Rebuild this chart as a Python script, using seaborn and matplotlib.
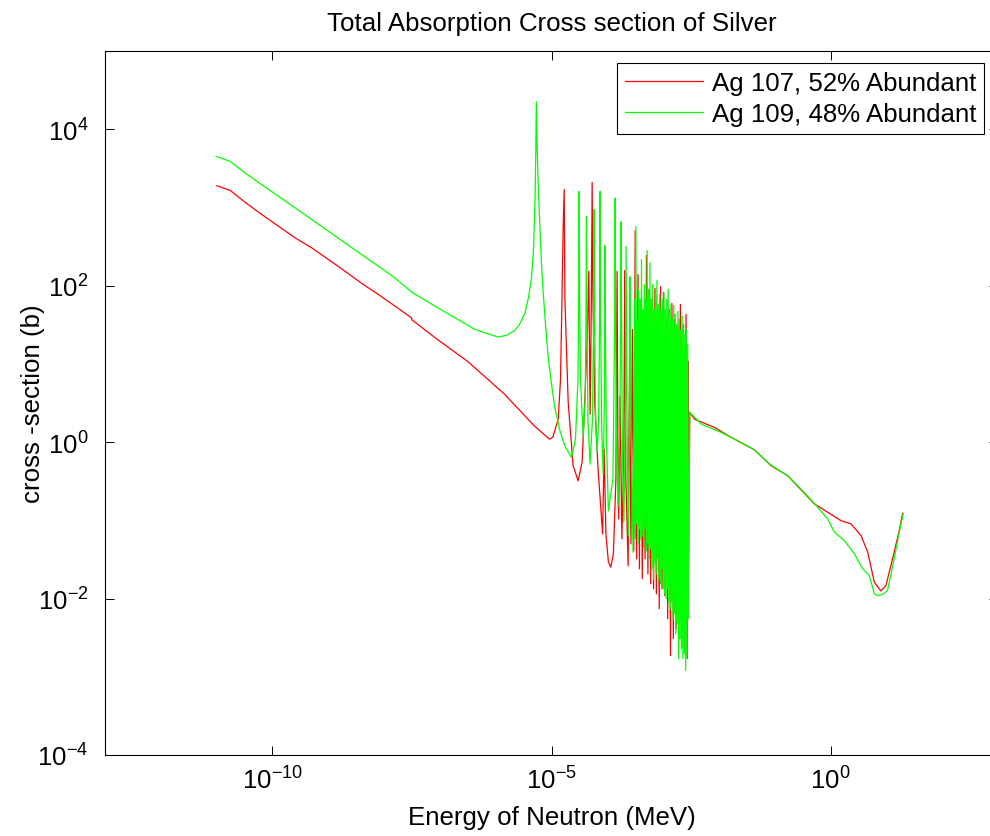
import numpy as np
import pandas as pd
import matplotlib
matplotlib.use("Agg")
import matplotlib.pyplot as plt
import seaborn as sns
from matplotlib.ticker import NullLocator

# ---------------------------------------------------------------------------
# Ag-107 absorption cross section (energy in eV, cross section in barns)
# ---------------------------------------------------------------------------
ag107_thermal_ev = [1.0e-5, 1.76e-5, 3.26e-5, 6.48e-5, 1.29e-4, 2.56e-4, 5.09e-4,
                    1.01e-3, 2.0e-3, 3.99e-3, 7.94e-3, 1.57e-2, 3.10e-2, 3.16e-2,
                    8.17e-2, 0.323, 1.44, 4.94, 9.2, 10.6]
ag107_thermal_b = [1900, 1650, 1160, 810, 574, 408, 304,
                   216, 153, 107, 77, 54.8, 38.8, 36.6,
                   21.7, 10.6, 4.1, 1.61, 1.09, 1.16]

ag107_resolved_ev = [13.2, 14.5, 15.1, 16.2, 16.9, 17.4, 19.9, 24.4, 30.0, 35.4,
                     39.4, 43.7, 46.5, 49.2, 51.8, 53.5, 55.3, 59.5, 68.3, 82.4,
                     87.7, 94.4, 104.6, 115.1, 128.5, 142.5, 149.7, 154.7, 160.0, 169.4,
                     182.5, 198.2, 204.8, 215.1,
                     236, 250, 265, 281, 298, 316, 335, 355, 376, 399,
                     423, 448, 475, 503, 534, 566, 600, 636, 674, 714,
                     757, 803, 851, 902, 956, 1013, 1074, 1139, 1207, 1279,
                     1356, 1437, 1524, 1615, 1712, 1815, 1923, 2039, 2161, 2291,
                     2428, 2574, 2728, 2790, 2860]
ag107_resolved_b = [1.97, 6.36, 30.4, 574, 1690, 66.7, 3.24, 0.5, 0.32, 0.556,
                    3.24, 20.6, 153, 2.28, 66.7, 2090, 66.7, 3.24, 0.453, 0.067,
                    0.814, 0.067, 0.0295, 0.0252, 0.0373, 0.337, 153, 0.814, 0.104, 3.9,
                    0.0579, 0.814, 156, 0.337,
                    0.0262, 11.5, 0.050, 27.6, 0.0407, 506, 0.0322, 139, 0.0240, 27.6,
                    0.0179, 37.1, 0.0322, 243, 0.0207, 49.7, 0.0155, 66.7, 0.0133, 92.1,
                    0.0115, 27.6, 0.00741, 97.7, 0.0133, 81.9, 0.0109, 37.1, 0.00552, 49.7,
                    0.00186, 59.3, 0.00307, 37.1, 0.00412, 27.6, 0.00477, 57.6, 0.00307, 32.0,
                    0.00229, 42.9, 0.00171, 10.8, 0.0303]

ag107_fast_ev = [3.0e3, 3.66e3, 8.35e3, 1.66e4, 4.34e4, 8.63e4, 1.71e5, 5.13e5,
                 8.91e5, 1.54e6, 2.33e6, 3.52e6, 4.63e6, 6.08e6, 8.0e6, 9.84e6,
                 1.38e7, 1.70e7, 1.96e7]
ag107_fast_b = [2.41, 1.96, 1.54, 1.15, 0.798, 0.499, 0.372, 0.162,
                0.127, 0.099, 0.090, 0.0638, 0.0392, 0.0162, 0.0125, 0.0147,
                0.0392, 0.0739, 0.124]

# ---------------------------------------------------------------------------
# Ag-109 absorption cross section (energy in eV, cross section in barns)
# ---------------------------------------------------------------------------
ag109_thermal_ev = [1.0e-5, 1.76e-5, 3.26e-5, 6.48e-5, 1.29e-4, 2.56e-4, 5.09e-4,
                    1.01e-3, 2.0e-3, 3.99e-3, 7.94e-3, 1.57e-2, 3.13e-2, 8.17e-2,
                    0.186, 0.425, 1.11, 1.567, 2.206, 2.676, 3.33, 3.878, 4.386,
                    4.764, 5.068, 5.238, 5.35, 5.549, 5.783, 6.174, 6.624, 7.103,
                    7.81, 8.73, 10.0, 11.46, 13.9, 17.3, 22.8]
ag109_thermal_b = [4480, 3870, 2750, 1950, 1390, 986, 699,
                   496, 352, 250, 177, 126, 82.6, 54.8,
                   39.0, 27.6, 22.0, 23.2, 26.8, 32.0, 44.2, 70.7, 127,
                   290, 1258, 5460, 22550, 5460, 1954, 604, 186, 81.9,
                   32.0, 12.1, 5.49, 2.80, 1.465, 0.897, 0.638]

ag109_resolved_ev = [26.9, 29.8, 30.7, 31.3, 31.96, 33.0, 36.9, 40.1, 41.4, 42.3,
                     43.2, 45.0, 49.2, 54.1, 56.9, 58.1, 59.3, 61.8, 65.7, 69.9,
                     72.8, 74.3, 75.9, 79.4, 84.1, 88.7, 90.6, 92.5, 96.4, 104.6,
                     126, 135, 137.9, 140.8, 146.7, 156, 168.1, 173.7, 176.6, 180.2,
                     186.3, 198, 210.8, 216.9, 223.3, 238.5, 250.5, 255.8, 264.4, 289.4,
                     307, 316, 325, 335, 345, 355, 365, 376, 387, 398,
                     410, 422, 434, 447, 460, 474, 488, 502, 517, 532,
                     548, 564, 580, 597, 615, 633, 652, 671, 690, 711,
                     731, 753, 775, 798, 821, 845, 870, 896, 922, 949,
                     977, 1006, 1035, 1066, 1097, 1129, 1162, 1196, 1231, 1267,
                     1304, 1343, 1382, 1422, 1464, 1507, 1551, 1597, 1644, 1692,
                     1741, 1792, 1845, 1899, 1955, 2012, 2071, 2132, 2194, 2259,
                     2325, 2393, 2463, 2535, 2610, 2686, 2765, 2846]
ag109_resolved_b = [1.09, 6.36, 66.7, 1604, 66.7, 6.36, 1.16, 3.53, 37.1, 770,
                    37.1, 1.96, 0.524, 1.96, 37.1, 937, 37.1, 1.96, 0.745, 1.96,
                    37.1, 1604, 37.1, 1.46, 0.391, 3.53, 326, 27.6, 1.09, 0.132,
                    0.337, 27.6, 1322, 27.6, 0.814, 0.154, 1.96, 37.1, 659, 37.1,
                    0.814, 0.095, 1.96, 319, 3.53, 0.063, 3.53, 130, 1.96, 0.039,
                    66.7, 0.0579, 569, 0.090, 37.1, 0.050, 89.5, 0.0777, 66.7, 0.0579,
                    216, 0.0633, 49.7, 0.0458, 104, 0.0777, 66.7, 0.0407, 281, 0.050,
                    89.5, 0.0322, 198, 0.0432, 66.7, 0.0240, 104, 0.0179, 49.7, 0.0278,
                    77.3, 0.0207, 116, 0.0322, 57.6, 0.0179, 77.3, 0.0155, 49.7, 0.0240,
                    66.7, 0.0133, 81.9, 0.0115, 49.7, 0.00994, 66.7, 0.0133, 89.5, 0.0091,
                    42.9, 0.00741, 57.6, 0.0091, 37.1, 0.00552, 55.9, 0.0064, 42.9, 0.00356,
                    32.0, 0.00477, 46.9, 0.00171, 37.1, 0.00307, 27.6, 0.00229, 40.5, 0.00171,
                    32.0, 0.00198, 23.9, 0.0012, 27.6, 0.00171, 17.8, 0.00552]

ag109_fast_ev = [3.0e3, 4.82e3, 1.10e4, 2.19e4, 4.34e4, 8.04e4, 1.71e5, 2.96e5,
                 5.90e5, 8.91e5, 1.17e6, 1.77e6, 2.67e6, 3.77e6, 4.94e6, 6.08e6,
                 7.08e6, 8.59e6, 1.05e7, 1.38e7, 1.70e7, 2.00e7]
ag109_fast_b = [2.41, 1.70, 1.33, 1.04, 0.798, 0.524, 0.372, 0.251,
                0.147, 0.104, 0.0705, 0.0551, 0.0373, 0.0240, 0.0197, 0.0115,
                0.0109, 0.0113, 0.0127, 0.0322, 0.0705, 0.121]

isotope_labels = ["Ag 107, 52% Abundant", "Ag 109, 48% Abundant"]
isotope_colors = ["#ff0000", "#00ff00"]


def isotope_frame(energy_parts, sigma_parts, label):
    energy_ev = np.concatenate([np.asarray(p, dtype=float) for p in energy_parts])
    sigma_b = np.concatenate([np.asarray(p, dtype=float) for p in sigma_parts])
    return pd.DataFrame({"energy_mev": energy_ev * 1e-6,
                         "sigma_b": sigma_b,
                         "isotope": label})


frames = [
    isotope_frame([ag107_thermal_ev, ag107_resolved_ev, ag107_fast_ev],
                  [ag107_thermal_b, ag107_resolved_b, ag107_fast_b],
                  isotope_labels[0]),
    isotope_frame([ag109_thermal_ev, ag109_resolved_ev, ag109_fast_ev],
                  [ag109_thermal_b, ag109_resolved_b, ag109_fast_b],
                  isotope_labels[1]),
]

sns.set_style("ticks")
plt.rcParams["font.family"] = ["Liberation Sans", "DejaVu Sans"]
plt.rcParams.update({
    "axes.linewidth": 0.8,
    "axes.edgecolor": "black",
    "text.color": "black",
    "axes.labelcolor": "black",
    "xtick.color": "black",
    "ytick.color": "black",
})

FS = 18.6

fig = plt.figure(figsize=(9.9, 8.37), dpi=100)
ax = fig.add_axes([105 / 990, 81 / 837, 893 / 990, 704 / 837])
ax.set_xscale("log")
ax.set_yscale("log")

for frame, label, color in zip(frames, isotope_labels, isotope_colors):
    sns.lineplot(data=frame, x="energy_mev", y="sigma_b", color=color,
                 linewidth=0.9, estimator=None, sort=False, label=label,
                 legend=False, ax=ax)

ax.set_xlim(1e-13, 1e3)
ax.set_ylim(1e-4, 1e5)
ax.set_xticks([1e-10, 1e-5, 1e0])
ax.set_yticks([1e-4, 1e-2, 1e0, 1e2, 1e4])
ax.xaxis.set_minor_locator(NullLocator())
ax.yaxis.set_minor_locator(NullLocator())
ax.tick_params(which="major", direction="in", top=True, right=True,
               length=6.5, width=0.7, labelsize=FS, color="black",
               labelcolor="black")
ax.tick_params(axis="y", pad=12)
ax.tick_params(axis="x", pad=8)
for side in ax.spines.values():
    side.set_color("black")
    side.set_linewidth(0.8)

ax.set_title("Total Absorption Cross section of Silver", fontsize=FS, pad=15)
ax.set_xlabel("Energy of Neutron (MeV)", fontsize=FS)
ax.set_ylabel("cross -section (b)", fontsize=FS)
ax.xaxis.set_label_coords(0.5, -0.071)
ax.yaxis.set_label_coords(-0.067, 0.5)

handles = ax.get_lines()[:2]
leg = ax.legend(handles, isotope_labels, loc="upper right",
                bbox_to_anchor=(984 / 990, 1 - 64 / 837),
                bbox_transform=fig.transFigure, borderaxespad=0,
                fontsize=FS, frameon=True, fancybox=False, shadow=False,
                framealpha=1, edgecolor="black", handlelength=3.0,
                handletextpad=0.35, borderpad=0.3, labelspacing=0.28)
leg.get_frame().set_linewidth(0.8)

fig.savefig("out.png", dpi=100, facecolor="white")
